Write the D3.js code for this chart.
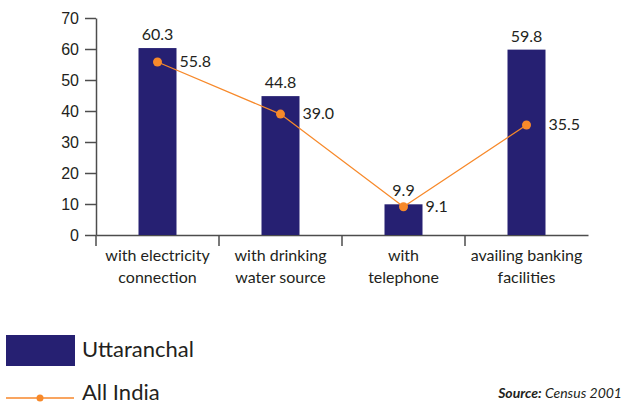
<!DOCTYPE html>
<html>
<head>
<meta charset="utf-8">
<script src="https://cdn.jsdelivr.net/npm/d3@7"></script>
<style>
  body { margin: 0; background: #fff; }
  svg { font-family: Lato, "Open Sans", sans-serif; }
  text { fill: #231f20; }
</style>
</head>
<body>
<div class="chart"></div>
<script>
// chart data
const categories = ["with electricity connection", "with drinking water source", "with telephone", "availing banking facilities"];
const categoryLines = [["with electricity", "connection"], ["with drinking", "water source"], ["with", "telephone"], ["availing banking", "facilities"]];
const uttaranchal = [60.3, 44.8, 9.9, 59.8];
const allIndia = [55.8, 39.0, 9.1, 35.5];
const yTicks = [0, 10, 20, 30, 40, 50, 60, 70];

const width = 627;
const height = 405;

const barColor = "#262072";
const lineColor = "#f7892a";

let svg = d3.select(".chart").append("svg")
    .attr("width", width)
    .attr("height", height);

// scales
const xScale = d3.scaleBand()
    .domain(categories)
    .range([96, 588]);

const yScale = d3.scaleLinear()
    .domain([0, 70])
    .range([235, 18]);

const barWidth = 38;
const cx = d => xScale(d) + xScale.bandwidth() / 2;

// y axis
const yAxis = svg.append("g")
    .attr("transform", "translate(96,0)")
    .call(d3.axisLeft(yScale).tickValues(yTicks).tickSize(11).tickPadding(6).tickSizeOuter(0));
yAxis.select(".domain").attr("stroke", "#4d4d4d").attr("stroke-width", 1.5);
yAxis.selectAll(".tick line").attr("stroke", "#4d4d4d").attr("stroke-width", 1.5);
yAxis.selectAll(".tick text").style("font-size", "16px").attr("fill", "#231f20").attr("dy", "0.36em");

// x axis line with ticks at band boundaries
const xAxis = svg.append("g")
    .attr("transform", "translate(0,235)")
    .call(d3.axisBottom(xScale).tickSize(0).tickFormat(""));
xAxis.select(".domain").attr("stroke", "#4d4d4d").attr("stroke-width", 1.5);
xAxis.selectAll(".tick").remove();
xAxis.selectAll(".sep")
    .data(categories)
    .enter().append("line")
    .attr("x1", d => xScale(d))
    .attr("x2", d => xScale(d))
    .attr("y1", 0)
    .attr("y2", 11)
    .attr("stroke", "#4d4d4d")
    .attr("stroke-width", 1.5);

// category labels
const catLabels = svg.selectAll(".cat")
    .data(categories)
    .enter().append("text")
    .attr("class", "cat")
    .attr("text-anchor", "middle")
    .style("font-size", "16px");
catLabels.each(function (d, i) {
    d3.select(this).selectAll("tspan")
        .data(categoryLines[i])
        .enter().append("tspan")
        .attr("x", cx(d))
        .attr("y", (t, j) => 261 + j * 22)
        .text(t => t);
});

// bars
svg.selectAll(".bar")
    .data(categories)
    .enter().append("rect")
    .attr("class", "bar")
    .attr("x", d => cx(d) - barWidth / 2)
    .attr("width", barWidth)
    .attr("y", (d, i) => yScale(uttaranchal[i]))
    .attr("height", (d, i) => yScale(0) - yScale(uttaranchal[i]))
    .attr("fill", barColor);

// bar labels
svg.selectAll(".barlabel")
    .data(categories)
    .enter().append("text")
    .attr("text-anchor", "middle")
    .attr("x", d => cx(d))
    .attr("y", (d, i) => yScale(uttaranchal[i]) - 8)
    .style("font-size", "16px")
    .text((d, i) => uttaranchal[i].toFixed(1));

// all india line
const line = d3.line()
    .x((d, i) => cx(categories[i]))
    .y(d => yScale(d));

svg.append("path")
    .datum(allIndia)
    .attr("d", line)
    .attr("fill", "none")
    .attr("stroke", lineColor)
    .attr("stroke-width", 1.3);

svg.selectAll(".dot")
    .data(allIndia)
    .enter().append("circle")
    .attr("cx", (d, i) => cx(categories[i]))
    .attr("cy", d => yScale(d))
    .attr("r", 4.5)
    .attr("fill", lineColor);

svg.selectAll(".linelabel")
    .data(allIndia)
    .enter().append("text")
    .attr("x", (d, i) => cx(categories[i]) + 22)
    .attr("y", d => yScale(d) + 5)
    .style("font-size", "16px")
    .text(d => d.toFixed(1));

// legend
svg.append("rect")
    .attr("x", 6).attr("y", 335)
    .attr("width", 69).attr("height", 31)
    .attr("fill", barColor);
svg.append("text")
    .attr("x", 82).attr("y", 357)
    .style("font-size", "22px")
    .text("Uttaranchal");

svg.append("line")
    .attr("x1", 6).attr("x2", 74)
    .attr("y1", 398).attr("y2", 398)
    .attr("stroke", "#f9a560")
    .attr("stroke-width", 2);
svg.append("circle")
    .attr("cx", 40).attr("cy", 398)
    .attr("r", 3.5)
    .attr("fill", lineColor);
svg.append("text")
    .attr("x", 82).attr("y", 400)
    .style("font-size", "22px")
    .text("All India");

// source
const source = svg.append("text")
    .attr("x", 622).attr("y", 398)
    .attr("text-anchor", "end")
    .style("font-size", "14px")
    .style("font-style", "italic");
source.append("tspan").style("font-weight", "bold").text("Source:");
source.append("tspan").text(" Census 2001");
</script>
</body>
</html>
